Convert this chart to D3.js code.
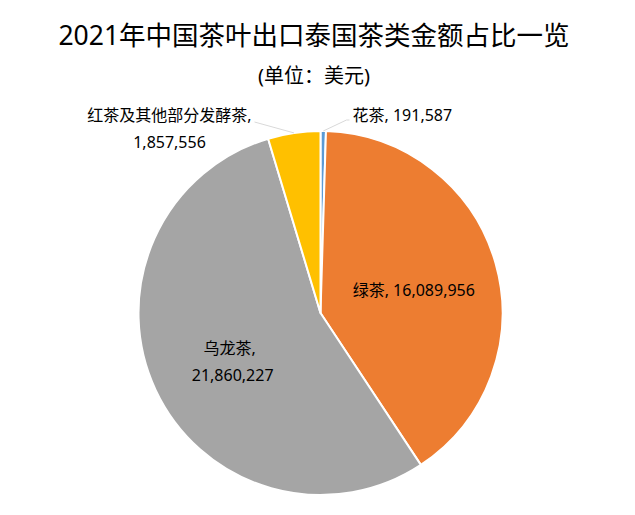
<!DOCTYPE html>
<html>
<head>
<meta charset="utf-8">
<script src="https://cdn.jsdelivr.net/npm/d3@7"></script>
<style>
  html, body { margin: 0; padding: 0; background: #fff; }
  text { font-family: "Noto Sans", "Noto Sans CJK SC", sans-serif; fill: #000; }
</style>
</head>
<body>
<svg id="chart" width="635" height="515"></svg>
<script>
const categories = ["花茶", "绿茶", "乌龙茶", "红茶及其他部分发酵茶"];
const values = [191587, 16089956, 21860227, 1857556];
const colors = ["#5B9BD5", "#ED7D31", "#A5A5A5", "#FFC000"];

const title = "2021年中国茶叶出口泰国茶类金额占比一览";
const subtitle = "(单位：美元)";

const width = 635, height = 515;
const cx = 320.5, cy = 313, radius = 182;

const svg = d3.select("#chart");

svg.append("text")
    .attr("x", 314).attr("y", 45)
    .attr("text-anchor", "middle")
    .style("font-size", "26.5px")
    .text(title);

svg.append("text")
    .attr("x", 314).attr("y", 83)
    .attr("text-anchor", "middle")
    .style("font-size", "20px")
    .text(subtitle);

const data = categories.map((c, i) => ({ name: c, value: values[i], color: colors[i] }));

const pie = d3.pie().sort(null).value(d => d.value);
const arcs = pie(data);

const arc = d3.arc().innerRadius(0).outerRadius(radius);
const edgeArc = d3.arc().innerRadius(radius).outerRadius(radius);
const labelArc = d3.arc().innerRadius(97).outerRadius(97);

const g = svg.append("g").attr("transform", `translate(${cx},${cy})`);

g.selectAll("path.slice")
  .data(arcs)
  .join("path")
    .attr("class", "slice")
    .attr("d", arc)
    .attr("fill", d => d.data.color)
    .attr("stroke", "#fff")
    .attr("stroke-width", 2)
    .attr("stroke-linejoin", "round");

const fmt = d3.format(",");
const lineH = 27;
const fs = "16px";

// label layout: inside (centroid) or outside (with leader line)
const layout = {
  "花茶":   { outside: true, anchor: "start", lx: 32, ly: -192, ex: [26, -193] },
  "绿茶":   { outside: false, dy: 10, dx: 0, split: false },
  "乌龙茶": { outside: false, dy: 0, dx: -3, split: true },
  "红茶及其他部分发酵茶": { outside: true, anchor: "middle", lx: -151, ly: -192, ex: [-66, -191] }
};

const labels = g.append("g");

arcs.forEach(d => {
  const L = layout[d.data.name];
  const num = fmt(d.data.value);
  if (!L.outside) {
    const [x, y] = labelArc.centroid(d);
    if (L.split) {
      const t = labels.append("text")
        .attr("text-anchor", "middle")
        .style("font-size", fs);
      t.append("tspan").attr("x", x + L.dx).attr("y", y + L.dy).text(d.data.name + ",");
      t.append("tspan").attr("x", x + L.dx + 3).attr("y", y + L.dy + lineH).text(num);
    } else {
      labels.append("text")
        .attr("x", x + L.dx).attr("y", y + L.dy)
        .attr("text-anchor", "middle")
        .style("font-size", fs)
        .text(d.data.name + ", " + num);
    }
  } else {
    const [sx, sy] = edgeArc.centroid(d);
    labels.append("polyline")
      .attr("points", [[sx, sy], L.ex, L.anchor === "start" ? [L.lx - 3, L.ex[1]] : L.ex].map(p => p.join(",")).join(" "))
      .attr("fill", "none")
      .attr("stroke", "#D9D9D9")
      .attr("stroke-width", 1);
    if (L.anchor === "start") {
      labels.append("text")
        .attr("x", L.lx).attr("y", L.ly)
        .attr("text-anchor", "start")
        .style("font-size", fs)
        .text(d.data.name + ", " + num);
    } else {
      const t = labels.append("text")
        .attr("text-anchor", "middle")
        .style("font-size", fs);
      t.append("tspan").attr("x", L.lx).attr("y", L.ly).text(d.data.name + ",");
      t.append("tspan").attr("x", L.lx).attr("y", L.ly + lineH).text(num);
    }
  }
});
</script>
</body>
</html>
